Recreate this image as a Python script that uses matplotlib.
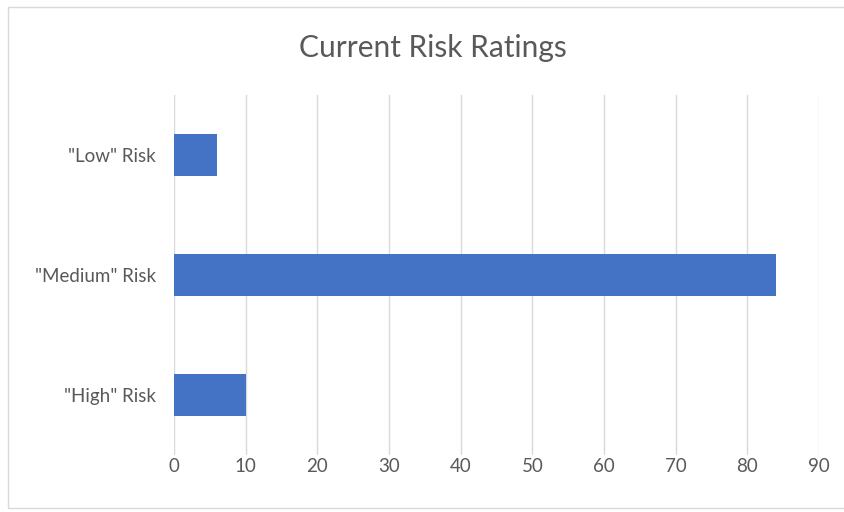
import matplotlib

matplotlib.use("Agg")

import matplotlib.pyplot as plt
from matplotlib.patches import Rectangle

categorias = ['"Low" Risk', '"Medium" Risk', '"High" Risk']
valores = [6, 84, 10]
ticks_x = list(range(0, 100, 10))

plt.rcParams["font.family"] = ["Lato", "DejaVu Sans"]

fig = plt.figure(figsize=(8.45, 5.12), dpi=100)
ax = fig.add_axes([174 / 845, 1 - 455 / 512, (819 - 174) / 845, (455 - 95) / 512])

ax.barh(range(len(categorias)), valores, height=0.35, color="#4472C4", zorder=3)
ax.set_xlim(0, 90)
ax.set_ylim(len(categorias) - 0.5, -0.5)
ax.set_xticks(ticks_x)
ax.set_yticks(range(len(categorias)))
ax.set_yticklabels(categorias)
ax.tick_params(length=0, labelsize=13.5, labelcolor="#595959")
ax.tick_params(axis="x", pad=2)
ax.tick_params(axis="y", pad=13)
ax.grid(axis="x", color="#D9D9D9", linewidth=1, zorder=0)
for s in ax.spines.values():
    s.set_visible(False)

fig.text(433 / 845, 1 - 48 / 512, "Current Risk Ratings", ha="center", va="center",
         fontsize=21.5, color="#595959")

# marco del grafico
fig.patches.append(Rectangle((8 / 845, 1 - 508 / 512), 1.0, 501 / 512,
                             transform=fig.transFigure, fill=False,
                             edgecolor="#D9D9D9", linewidth=1))

fig.savefig("out.png", dpi=100)
plt.close(fig)
